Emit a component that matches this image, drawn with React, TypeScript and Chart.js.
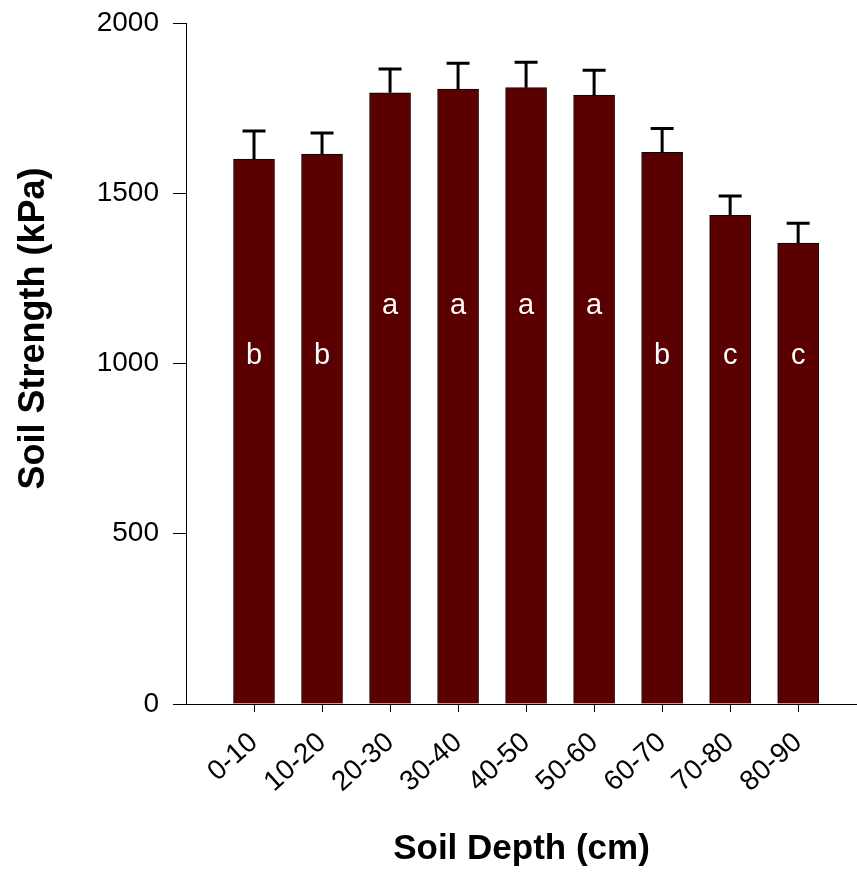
import React, { useEffect, useRef } from 'react';
import { Chart, registerables } from 'chart.js';

Chart.register(...registerables);

const depthLabels = ['0-10', '10-20', '20-30', '30-40', '40-50', '50-60', '60-70', '70-80', '80-90'];
const strengthMeans = [1600, 1615, 1795, 1806, 1810, 1788, 1620, 1435, 1354];
const strengthErrors = [83, 62, 70, 76, 75, 73, 70, 57, 58];
const groupLetters = ['b', 'b', 'a', 'a', 'a', 'a', 'b', 'c', 'c'];
const letterLevels = [1000, 1000, 1145, 1145, 1145, 1145, 1000, 1000, 1000];
const yMin = 0;
const yMax = 2000;
const yStep = 500;

const FONT = '"Liberation Sans", Arial, sans-serif';

const annotationPlugin = {
  id: 'errorBarsAndLetters',
  afterDatasetsDraw(chart: any) {
    const { ctx } = chart;
    const x = chart.scales.x;
    const y = chart.scales.y;
    ctx.save();
    ctx.strokeStyle = '#000';
    ctx.lineWidth = 3;
    strengthMeans.forEach((m, i) => {
      const px = x.getPixelForValue(i);
      const base = y.getPixelForValue(m);
      const top = y.getPixelForValue(m + strengthErrors[i]);
      ctx.beginPath();
      ctx.moveTo(px, base);
      ctx.lineTo(px, top);
      ctx.moveTo(px - 11.5, top);
      ctx.lineTo(px + 11.5, top);
      ctx.stroke();
    });
    ctx.fillStyle = '#fff';
    ctx.font = `29px ${FONT}`;
    ctx.textAlign = 'center';
    ctx.textBaseline = 'alphabetic';
    groupLetters.forEach((l, i) => {
      ctx.fillText(l, x.getPixelForValue(i), y.getPixelForValue(letterLevels[i]));
    });
    ctx.restore();
  },
};

export default function App() {
  const ref = useRef<HTMLCanvasElement | null>(null);

  useEffect(() => {
    if (!ref.current) return;
    const chart = new Chart(ref.current, {
      type: 'bar',
      data: {
        datasets: [
          {
            data: strengthMeans.map((v, i) => ({ x: i, y: v })),
            backgroundColor: '#5a0000',
            borderColor: '#1a0000',
            borderWidth: 1,
            barThickness: 41,
          },
        ],
      },
      plugins: [annotationPlugin],
      options: {
        animation: false,
        responsive: true,
        maintainAspectRatio: false,
        layout: { padding: { left: 0, top: 23, right: 0, bottom: 0 } },
        plugins: {
          legend: { display: false },
          tooltip: { enabled: false },
        },
        scales: {
          x: {
            type: 'linear',
            min: -1,
            max: 8.865,
            offset: false,
            afterBuildTicks: (scale: any) => {
              scale.ticks = depthLabels.map((_, i) => ({ value: i }));
            },
            afterFit: (scale: any) => {
              scale.height = 178;
              scale.paddingLeft = 0;
              scale.paddingRight = 0;
            },
            ticks: {
              autoSkip: false,
              minRotation: 42,
              maxRotation: 42,
              padding: 14,
              color: '#000',
              font: { family: FONT, size: 28 },
              callback: (v: any) => depthLabels[Math.round(Number(v))] ?? '',
            },
            grid: {
              offset: false,
              display: true,
              drawOnChartArea: false,
              drawTicks: true,
              tickLength: 8,
              color: '#000',
              lineWidth: 1,
            },
            border: { display: true, color: '#000', width: 1 },
            title: {
              display: true,
              text: 'Soil Depth (cm)',
              color: '#000',
              font: { family: FONT, size: 35, weight: 'bold' },
              padding: { top: 0, bottom: 12 },
            },
          },
          y: {
            min: yMin,
            max: yMax,
            afterFit: (scale: any) => {
              scale.width = 186;
              scale.paddingTop = 0;
              scale.paddingBottom = 0;
            },
            ticks: {
              stepSize: yStep,
              padding: 14,
              color: '#000',
              font: { family: FONT, size: 28 },
              callback: (v: any) => String(v),
            },
            grid: {
              display: true,
              drawOnChartArea: false,
              drawTicks: true,
              tickLength: 13,
              color: '#000',
              lineWidth: 1,
            },
            border: { display: true, color: '#000', width: 1 },
            title: {
              display: true,
              text: '       Soil Strength (kPa)',
              color: '#000',
              font: { family: FONT, size: 36, weight: 'bold' },
              padding: { top: 12, bottom: 0 },
            },
          },
        },
      } as any,
    });
    return () => chart.destroy();
  }, []);

  return (
    <div style={{ position: 'absolute', left: 0, top: 0, width: 857, height: 882, background: '#fff' }}>
      <canvas ref={ref} />
    </div>
  );
}
